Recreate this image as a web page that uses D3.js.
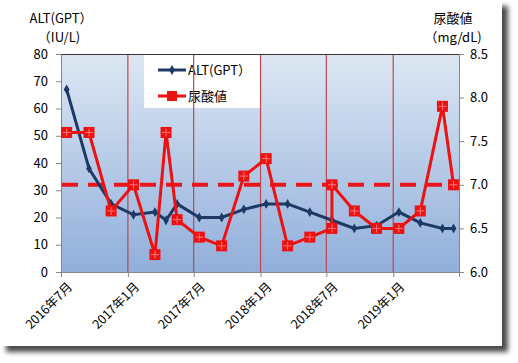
<!DOCTYPE html>
<meta charset="utf-8">
<style>
body { margin: 0; background: #fff; }
text { font-family: 'Noto Sans CJK JP', 'DejaVu Sans', sans-serif; fill: #000; }
</style>
<body>
<script src="https://cdn.jsdelivr.net/npm/d3@7"></script>
<script>
// months of each reading (two readings in 2018-07 for uric acid)
var months = ["2016-07","2016-09","2016-11","2017-01","2017-03","2017-04","2017-05","2017-07","2017-09","2017-11",
              "2018-01","2018-03","2018-05","2018-07","2018-07","2018-09","2018-11","2019-01","2019-03","2019-05","2019-06"];
var altValues = [67,38,25,21,22,19,25,20,20,23,25,25,22,19,19,16,17,22,18,16,16];
var uaValues = [7.6,7.6,6.7,7.0,6.2,7.6,6.6,6.4,6.3,7.1,7.3,6.3,6.4,6.5,7.0,6.7,6.5,6.5,6.7,7.9,7.0];
var tickMonths = ["2016-07","2017-01","2017-07","2018-01","2018-07","2019-01"];
var leftTicks = [0,10,20,30,40,50,60,70,80];
var rightTicks = [6.0,6.5,7.0,7.5,8.0,8.5];
var uaLimit = 7.0;

var width = 518, height = 363;
var plotL = 61, plotR = 459, plotT = 54, plotB = 272;

var parse = d3.timeParse("%Y-%m");

var svg = d3.select("body").append("svg")
  .attr("width", width)
  .attr("height", height);

var defs = svg.append("defs");
var shadow = defs.append("filter").attr("id", "shadow")
  .attr("x", "-5%").attr("y", "-5%").attr("width", "115%").attr("height", "115%");
shadow.append("feDropShadow")
  .attr("dx", 6).attr("dy", 6).attr("stdDeviation", 2.5)
  .attr("flood-color", "#000").attr("flood-opacity", 0.7);

var grad = defs.append("linearGradient").attr("id", "bg")
  .attr("x1", 0).attr("y1", 0).attr("x2", 0).attr("y2", 1);
grad.append("stop").attr("offset", "0%").attr("stop-color", "#dde7f3");
grad.append("stop").attr("offset", "100%").attr("stop-color", "#91afdb");

// card
svg.append("rect")
  .attr("x", 0).attr("y", 0)
  .attr("width", 502).attr("height", 346)
  .attr("fill", "#fff")
  .attr("filter", "url(#shadow)");

var x = d3.scaleTime()
  .domain([parse("2016-07"), parse("2019-07")])
  .range([plotL, plotR]);

var yL = d3.scaleLinear().domain([0, 80]).range([plotB, plotT]);
var yR = d3.scaleLinear().domain([6.0, 8.5]).range([plotB, plotT]);

function midMonth(m) {
  var d = parse(m);
  return (x(d) + x(d3.timeMonth.offset(d, 1))) / 2;
}

// plot area
svg.append("rect")
  .attr("x", plotL).attr("y", plotT)
  .attr("width", plotR - plotL).attr("height", plotB - plotT)
  .attr("fill", "url(#bg)");

// legend box
var lg = svg.append("g");
lg.append("rect")
  .attr("x", 144).attr("y", plotT + 1)
  .attr("width", 116).attr("height", 53)
  .attr("fill", "#fff");

// vertical grid lines
svg.append("g")
  .selectAll("line")
  .data(tickMonths.slice(1))
  .enter().append("line")
    .attr("x1", function(d) { return x(parse(d)); })
    .attr("x2", function(d) { return x(parse(d)); })
    .attr("y1", plotT)
    .attr("y2", plotB)
    .style("stroke", "#c0464f")
    .style("stroke-width", 1.2);

// top border
svg.append("line")
  .attr("x1", plotL).attr("x2", plotR)
  .attr("y1", plotT + 0.5).attr("y2", plotT + 0.5)
  .style("stroke", "#333").style("stroke-width", 1);

// axes
var leftAxis = d3.axisLeft(yL).tickValues(leftTicks).tickSize(5).tickPadding(8);
var gL = svg.append("g").attr("transform", "translate(" + plotL + ",0)").call(leftAxis);

var rightAxis = d3.axisRight(yR).tickValues(rightTicks).tickSize(5).tickPadding(6)
  .tickFormat(d3.format(".1f"));
var gR = svg.append("g").attr("transform", "translate(" + plotR + ",0)").call(rightAxis);

var bottomAxis = d3.axisBottom(x)
  .tickValues(tickMonths.map(parse))
  .tickSize(5)
  .tickFormat(function(d) { return d.getFullYear() + "年" + (d.getMonth() + 1) + "月"; });
var gB = svg.append("g").attr("transform", "translate(0," + plotB + ")").call(bottomAxis);

gB.selectAll("text")
  .attr("text-anchor", "end")
  .attr("dx", 0).attr("dy", 0)
  .attr("transform", "translate(6,10) rotate(-45)");

[gL, gR, gB].forEach(function(g) {
  g.selectAll(".domain").style("stroke", "#868686");
  g.selectAll(".tick line").style("stroke", "#868686");
  g.selectAll("text").style("font-size", "13px")
    .style("font-family", "'Noto Sans CJK JP', sans-serif");
});
gB.selectAll("text").style("font-size", "12.5px");

// uric acid reference line
svg.append("line")
  .attr("x1", plotL + 1).attr("x2", plotR)
  .attr("y1", yR(uaLimit)).attr("y2", yR(uaLimit))
  .style("stroke", "#e8141c")
  .style("stroke-width", 4)
  .style("stroke-dasharray", "16,10");

// series
var altData = months.map(function(m, i) { return {x: midMonth(m), y: yL(altValues[i])}; });
var uaData = months.map(function(m, i) { return {x: midMonth(m), y: yR(uaValues[i])}; });

var line = d3.line().x(function(d) { return d.x; }).y(function(d) { return d.y; });

svg.append("path")
  .datum(altData)
  .attr("d", line)
  .attr("fill", "none")
  .style("stroke", "#1c3a64")
  .style("stroke-width", 3);

svg.append("g").selectAll("path")
  .data(altData)
  .enter().append("path")
    .attr("d", d3.symbol().type(d3.symbolDiamond).size(28))
    .attr("transform", function(d) { return "translate(" + d.x + "," + d.y + ")"; })
    .attr("fill", "#1c3a64");

svg.append("path")
  .datum(uaData)
  .attr("d", line)
  .attr("fill", "none")
  .style("stroke", "#ee1111")
  .style("stroke-width", 3);

var sq = svg.append("g").selectAll("g")
  .data(uaData)
  .enter().append("g")
    .attr("transform", function(d) { return "translate(" + d.x + "," + d.y + ")"; });
sq.append("rect")
  .attr("x", -5.5).attr("y", -5.5).attr("width", 11).attr("height", 11)
  .attr("fill", "#ee1111");
sq.append("path")
  .attr("d", "M-4,0H4M0,-4V4")
  .style("stroke", "#ff7777").style("stroke-width", 1);

// legend entries
lg.append("line").attr("x1", 158).attr("x2", 186).attr("y1", 70).attr("y2", 70)
  .style("stroke", "#1c3a64").style("stroke-width", 3);
lg.append("path")
  .attr("d", d3.symbol().type(d3.symbolDiamond).size(28))
  .attr("transform", "translate(172,70)")
  .attr("fill", "#1c3a64");
lg.append("text").attr("x", 188).attr("y", 75)
  .style("font-size", "13px").text("ALT(GPT）");

lg.append("line").attr("x1", 158).attr("x2", 186).attr("y1", 96).attr("y2", 96)
  .style("stroke", "#ee1111").style("stroke-width", 3);
lg.append("rect").attr("x", 167).attr("y", 91).attr("width", 10).attr("height", 10)
  .attr("fill", "#ee1111");
lg.append("text").attr("x", 188).attr("y", 101)
  .style("font-size", "13px").text("尿酸値");

// axis titles
svg.append("text").attr("x", 61).attr("y", 23).attr("text-anchor", "middle")
  .style("font-size", "13px").text("ALT(GPT）");
svg.append("text").attr("x", 59).attr("y", 42).attr("text-anchor", "middle")
  .style("font-size", "13px").text("（IU/L)");
svg.append("text").attr("x", 453).attr("y", 23).attr("text-anchor", "middle")
  .style("font-size", "13px").text("尿酸値");
svg.append("text").attr("x", 453).attr("y", 42).attr("text-anchor", "middle")
  .style("font-size", "13px").text("（mg/dL)");
</script>
</body>
